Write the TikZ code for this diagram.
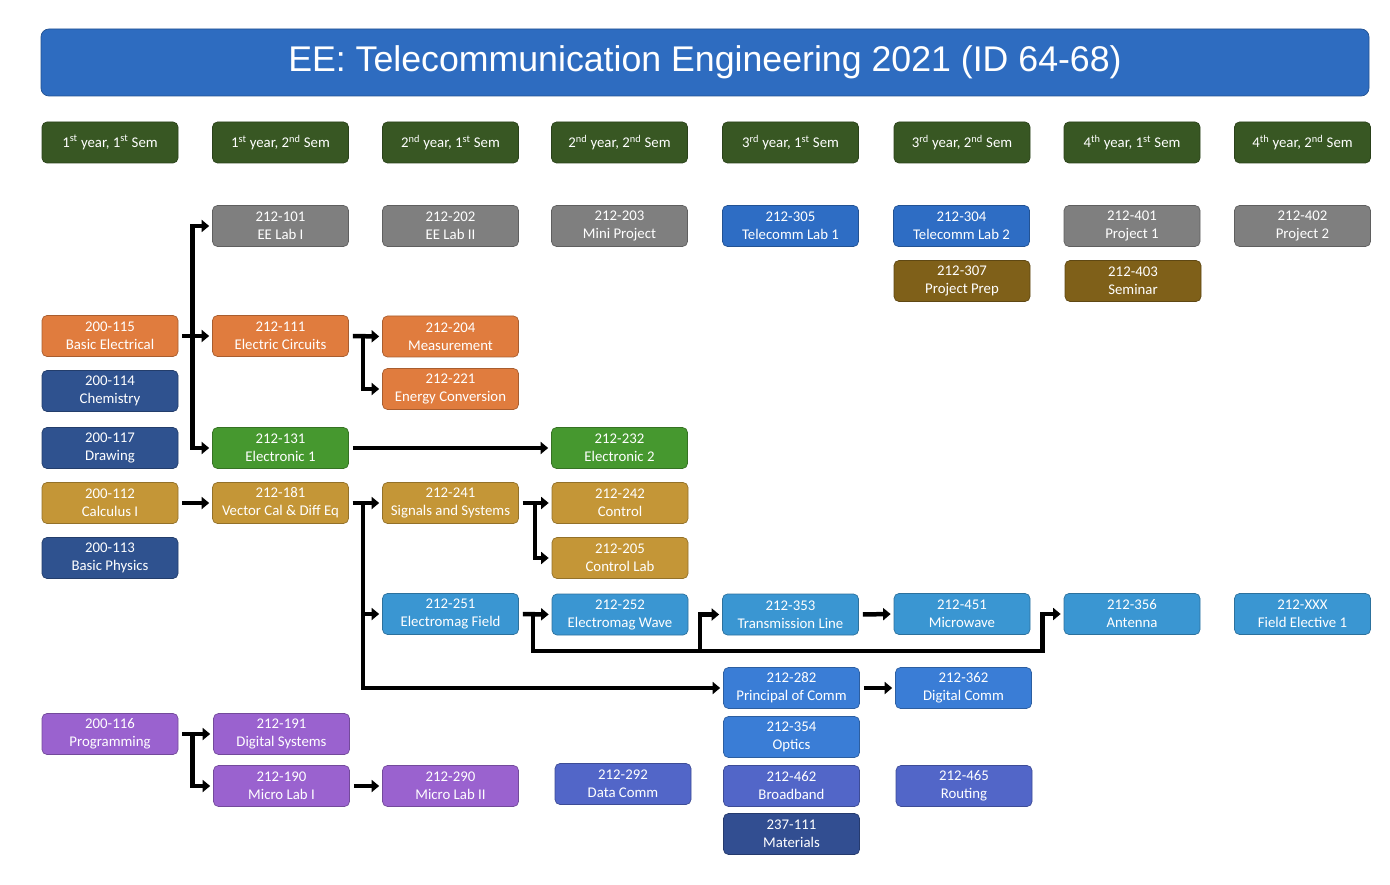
\documentclass[tikz,border=0pt]{standalone}
\usepackage{fontspec}
\usetikzlibrary{arrows.meta}
\newfontfamily\coursefont{Carlito}
\newfontfamily\titlefont{Liberation Sans}
\definecolor{titleblue}{HTML}{2E6CC0}
\definecolor{semgreen}{HTML}{385723}
\definecolor{labgray}{HTML}{7F7F7F}
\definecolor{elecorange}{HTML}{E07C3E}
\definecolor{basicblue}{HTML}{2F528F}
\definecolor{electgreen}{HTML}{46982F}
\definecolor{mathgold}{HTML}{C49637}
\definecolor{emblue}{HTML}{3A96D2}
\definecolor{labblue}{HTML}{2E6DC4}
\definecolor{commblue}{HTML}{3A7DD6}
\definecolor{prepbrown}{HTML}{7F6019}
\definecolor{progpurple}{HTML}{9A62CF}
\definecolor{netblue}{HTML}{5266C8}
\definecolor{matblue}{HTML}{324E91}

\begin{document}
\begin{tikzpicture}[x=1pt,y=-1pt,
	course/.style={rectangle, rounded corners=5pt, minimum width=136pt, minimum height=41pt, inner sep=1pt, align=center, text=white, font=\coursefont\fontsize{14.8}{18}\selectfont, fill=#1, draw=#1!75!black, line width=0.7pt},
	req/.style={line width=4.5pt, -{Triangle[width=12pt,length=7.5pt]}, shorten <=4pt, shorten >=3pt}]
	\useasboundingbox (0,0) rectangle (1390,885);
	
	\node[course=titleblue, minimum width=1328pt, minimum height=67pt, rounded corners=8pt, font=\titlefont\fontsize{35.7}{40}\selectfont] (title) at (705,62.5) {EE: Telecommunication Engineering 2021 (ID 64-68)};
	
	% semesters
	\node[course=semgreen] (y1s1) at (110,142.5) {1\textsuperscript{st} year, 1\textsuperscript{st} Sem};
	\node[course=semgreen] (y1s2) at (280.5,142.5) {1\textsuperscript{st} year, 2\textsuperscript{nd} Sem};
	\node[course=semgreen] (y2s1) at (450.5,142.5) {2\textsuperscript{nd} year, 1\textsuperscript{st} Sem};
	\node[course=semgreen] (y2s2) at (619.5,142.5) {2\textsuperscript{nd} year, 2\textsuperscript{nd} Sem};
	\node[course=semgreen] (y3s1) at (790.5,142.5) {3\textsuperscript{rd} year, 1\textsuperscript{st} Sem};
	\node[course=semgreen] (y3s2) at (962,142.5) {3\textsuperscript{rd} year, 2\textsuperscript{nd} Sem};
	\node[course=semgreen] (y4s1) at (1132,142.5) {4\textsuperscript{th} year, 1\textsuperscript{st} Sem};
	\node[course=semgreen] (y4s2) at (1302.5,142.5) {4\textsuperscript{th} year, 2\textsuperscript{nd} Sem};
	
	% year 1, sem 1
	\node[course=elecorange] (b115) at (110,336) {200-115\\Basic Electrical};
	\node[course=basicblue] (c114) at (110,391) {200-114\\Chemistry};
	\node[course=basicblue] (d117) at (110,448) {200-117\\Drawing};
	\node[course=mathgold] (c112) at (110,503) {200-112\\Calculus I};
	\node[course=basicblue] (p113) at (110,558) {200-113\\Basic Physics};
	\node[course=progpurple] (p116) at (110,734) {200-116\\Programming};
	
	% year 1, sem 2
	\node[course=labgray] (l101) at (280.5,226) {212-101\\EE Lab I};
	\node[course=elecorange] (e111) at (280.5,336) {212-111\\Electric Circuits};
	\node[course=electgreen] (e131) at (280.5,448) {212-131\\Electronic 1};
	\node[course=mathgold] (v181) at (280.5,503) {212-181\\Vector Cal \& Diff Eq};
	\node[course=progpurple] (d191) at (281.5,734) {212-191\\Digital Systems};
	\node[course=progpurple] (m190) at (281.5,786) {212-190\\Micro Lab I};
	
	% year 2, sem 1
	\node[course=labgray] (l202) at (450.5,226) {212-202\\EE Lab II};
	\node[course=elecorange] (m204) at (450.5,336.5) {212-204\\Measurement};
	\node[course=elecorange] (c221) at (450.5,389) {212-221\\Energy Conversion};
	\node[course=mathgold] (s241) at (450.5,503) {212-241\\Signals and Systems};
	\node[course=emblue] (f251) at (450.5,614) {212-251\\Electromag Field};
	\node[course=progpurple] (m290) at (450.5,786) {212-290\\Micro Lab II};
	
	% year 2, sem 2
	\node[course=labgray] (p203) at (619.5,226) {212-203\\Mini Project};
	\node[course=electgreen] (e232) at (619.5,448) {212-232\\Electronic 2};
	\node[course=mathgold] (c242) at (620,503) {212-242\\Control};
	\node[course=mathgold] (l205) at (620,558) {212-205\\Control Lab};
	\node[course=emblue] (w252) at (620,614.5) {212-252\\Electromag Wave};
	\node[course=netblue] (d292) at (623,784) {212-292\\Data Comm};
	
	% year 3, sem 1
	\node[course=labblue] (l305) at (790.5,226) {212-305\\Telecomm Lab 1};
	\node[course=emblue] (t353) at (790.5,614.5) {212-353\\Transmission Line};
	\node[course=commblue] (p282) at (791.5,688) {212-282\\Principal of Comm};
	\node[course=commblue] (o354) at (791.5,737) {212-354\\Optics};
	\node[course=netblue] (b462) at (791.5,786) {212-462\\Broadband};
	\node[course=matblue] (m111) at (791.5,834) {237-111\\Materials};
	
	% year 3, sem 2
	\node[course=labblue] (l304) at (961.5,226) {212-304\\Telecomm Lab 2};
	\node[course=prepbrown] (p307) at (962,281) {212-307\\Project Prep};
	\node[course=emblue] (w451) at (962,614) {212-451\\Microwave};
	\node[course=commblue] (d362) at (963.5,688) {212-362\\Digital Comm};
	\node[course=netblue] (r465) at (964,786) {212-465\\Routing};
	
	% year 4
	\node[course=labgray] (p401) at (1132,226) {212-401\\Project 1};
	\node[course=prepbrown] (s403) at (1133,281) {212-403\\Seminar};
	\node[course=emblue] (a356) at (1132,614) {212-356\\Antenna};
	\node[course=labgray] (p402) at (1302.5,226) {212-402\\Project 2};
	\node[course=emblue] (f001) at (1302.5,614) {212-XXX\\Field Elective 1};
	
	% prerequisites
	\draw[req] (b115.east) -- (e111.west);
	\draw[req] (b115.east) -- ++(14,0) |- (l101.west);
	\draw[req] (b115.east) -- ++(14,0) |- (e131.west);
	\draw[req] (e111.east) -- (m204.west);
	\draw[req] (e111.east) -- ++(14,0) |- (c221.west);
	\draw[req] (e131.east) -- (e232.west);
	\draw[req] (c112.east) -- (v181.west);
	\draw[req] (v181.east) -- (s241.west);
	\draw[req] (v181.east) -- ++(14,0) |- (f251.west);
	\draw[req] (v181.east) -- ++(14,0) |- (p282.west);
	\draw[req] (s241.east) -- (c242.west);
	\draw[req] (s241.east) -- ++(16,0) |- (l205.west);
	\coordinate (j251) at (533,651);
	\draw[req] (f251.east) -- (w252.west);
	\draw[req] (f251.east) -| (j251) -| ([xshift=-22pt]t353.west) -- (t353.west);
	\draw[req] (f251.east) -| (j251) -| ([xshift=-21pt]a356.west) -- (a356.west);
	\draw[req] (t353.east) -- (w451.west);
	\draw[req] (p282.east) -- (d362.west);
	\draw[req] (p116.east) -- (d191.west);
	\draw[req] (p116.east) -- ++(14,0) |- (m190.west);
	\draw[req] (m190.east) -- (m290.west);
\end{tikzpicture}
\end{document}
